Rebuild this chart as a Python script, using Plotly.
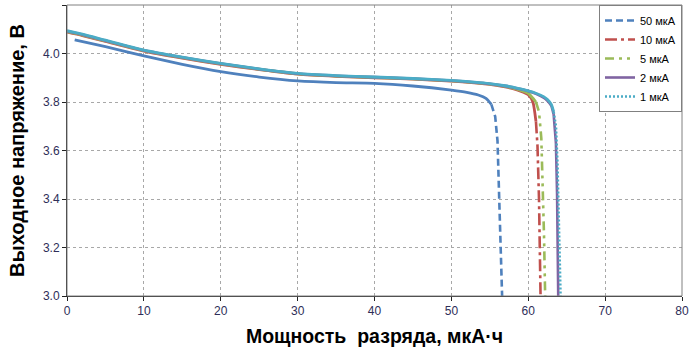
import plotly.graph_objects as go

# ---- data ----
names = ["50 мкА", "10 мкА", "5 мкА", "2 мкА", "1 мкА"]

x_50 = [1, 5, 10, 15, 20, 25, 30, 35, 40, 45, 50, 52, 53.5, 54.5, 55.2, 55.7, 56.0, 56.2, 56.4, 56.6]
y_50 = [4.056, 4.028, 3.990, 3.955, 3.925, 3.903, 3.887, 3.880, 3.877, 3.866, 3.849, 3.840, 3.829, 3.815, 3.790, 3.740, 3.640, 3.450, 3.200, 3.000]

x_10 = [0, 2, 5, 10, 15, 20, 25, 30, 35, 40, 45, 50, 53, 55, 57, 58, 59, 60, 60.6, 61.0, 61.2, 61.4, 61.5, 61.6]
y_10 = [4.088, 4.074, 4.050, 4.010, 3.981, 3.955, 3.934, 3.915, 3.906, 3.900, 3.894, 3.886, 3.879, 3.873, 3.862, 3.855, 3.845, 3.830, 3.800, 3.720, 3.620, 3.400, 3.200, 3.000]

x_5 = [0, 2, 5, 10, 15, 20, 25, 30, 35, 40, 45, 50, 53, 55, 57, 58, 59, 60, 61.0, 61.4, 61.7, 61.9, 62.05, 62.2]
y_5 = [4.090, 4.076, 4.052, 4.012, 3.983, 3.957, 3.935, 3.916, 3.907, 3.901, 3.895, 3.887, 3.880, 3.874, 3.864, 3.857, 3.848, 3.836, 3.800, 3.760, 3.650, 3.450, 3.250, 3.000]

x_2 = [0, 2, 5, 10, 15, 20, 25, 30, 35, 40, 45, 50, 53, 55, 57, 58, 59, 60, 61, 62, 62.5, 63.0, 63.3, 63.6, 63.75, 63.85, 63.9]
y_2 = [4.092, 4.078, 4.053, 4.013, 3.984, 3.958, 3.936, 3.917, 3.908, 3.902, 3.896, 3.888, 3.881, 3.875, 3.866, 3.860, 3.853, 3.845, 3.834, 3.818, 3.805, 3.785, 3.750, 3.630, 3.420, 3.200, 3.000]

x_1 = [0, 2, 5, 10, 15, 20, 25, 30, 35, 40, 45, 50, 53, 55, 57, 58, 59, 60, 61, 62, 62.5, 63.0, 63.3, 63.6, 63.8, 63.95, 64.05, 64.15, 64.2]
y_1 = [4.094, 4.080, 4.055, 4.014, 3.985, 3.959, 3.937, 3.918, 3.909, 3.903, 3.897, 3.889, 3.882, 3.876, 3.867, 3.861, 3.854, 3.846, 3.836, 3.822, 3.810, 3.790, 3.760, 3.700, 3.550, 3.350, 3.150, 3.050, 3.000]

xs = [x_50, x_10, x_5, x_2, x_1]
ys = [y_50, y_10, y_5, y_2, y_1]

x_ticks = [0, 10, 20, 30, 40, 50, 60, 70, 80]
y_ticks = [3.0, 3.2, 3.4, 3.6, 3.8, 4.0, 4.2]

# ---- styles ----
colors = ["#4F81BD", "#C0504D", "#9BBB59", "#8064A2", "#4BACC6"]
dashes = ["7px,4px", "12px,4px,3px,4px", "9px,5px,3px,5px,3px,5px", "solid", "2px,2px"]
split_at = [14, 19, 18, 22, 22]   # index where the steep (dashed) part begins

FONT = "Liberation Sans, Arial, sans-serif"
TICK_COLOR = "#2e2e58"

fig = go.Figure()
for i in range(len(names)):
    k = split_at[i]
    # plateau: drawn solid (dense points make the dashes merge in the original)
    fig.add_trace(go.Scatter(
        x=xs[i][:k + 1], y=ys[i][:k + 1], mode="lines",
        line=dict(color=colors[i], width=2.8, shape="spline", smoothing=0.6),
        showlegend=False, hoverinfo="skip"))
    # steep part: drawn with the series' dash style
    fig.add_trace(go.Scatter(
        x=xs[i][k:], y=ys[i][k:], mode="lines", name=names[i],
        line=dict(color=colors[i], width=2.6, dash=dashes[i])))

fig.update_layout(
    width=700, height=361,
    margin=dict(l=67, r=18, t=5, b=65, autoexpand=False),
    paper_bgcolor="white", plot_bgcolor="white",
    font=dict(family=FONT, color="black"),
    legend=dict(x=1, y=1, xanchor="right", yanchor="top",
                bgcolor="white", bordercolor="#808080", borderwidth=1,
                font=dict(size=11, family=FONT, color="black"),
                itemwidth=30, tracegroupgap=0),
    shapes=[dict(type="rect", xref="paper", yref="paper", x0=0, y0=0, x1=1, y1=1,
                 line=dict(color="#808080", width=1), layer="above")],
)

fig.update_xaxes(
    range=[0, 80], tickvals=x_ticks, ticktext=[str(v) for v in x_ticks],
    automargin=False,
    showgrid=True, gridcolor="#a8a8a8", griddash="dot", gridwidth=1,
    zeroline=False, showline=True, linecolor="#222222", linewidth=1,
    ticks="outside", ticklen=4, tickcolor="#222222",
    tickfont=dict(size=12, color=TICK_COLOR, family=FONT),
    title=dict(text="Мощность \u00a0разряда, мкА·ч",
               font=dict(size=19.5, family=FONT, color="black", weight="bold"),
               standoff=11),
)
fig.update_yaxes(
    range=[3.0, 4.2], tickvals=y_ticks, ticktext=[f"{v:.1f}" for v in y_ticks],
    automargin=False,
    showgrid=True, gridcolor="#a8a8a8", griddash="dot", gridwidth=1,
    zeroline=False, showline=True, linecolor="#222222", linewidth=1,
    ticks="outside", ticklen=4, tickcolor="#222222",
    tickfont=dict(size=12, color=TICK_COLOR, family=FONT),
    title=dict(text="Выходное напряжение, В",
               font=dict(size=20, family=FONT, color="black", weight="bold"),
               standoff=12),
)

fig.write_html("out.html",
               config={"displayModeBar": False},
               post_script="document.body.style.margin='0';document.body.style.padding='0';")
